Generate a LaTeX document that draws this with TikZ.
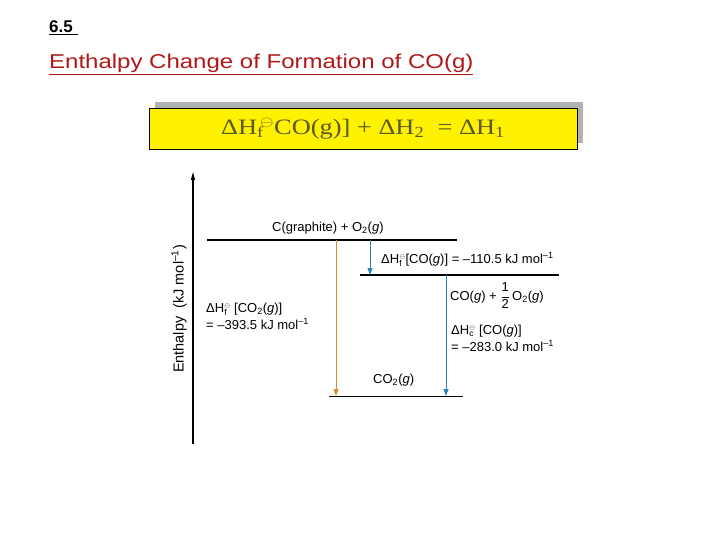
\documentclass[tikz,border=0pt]{standalone}
\usepackage{fontspec}
\setmainfont{Liberation Sans}
\newfontfamily\eqfont{Liberation Serif}
\usetikzlibrary{arrows.meta,positioning,shadows}
\definecolor{titlered}{RGB}{176,24,24}
\definecolor{eqtext}{RGB}{92,88,40}
\definecolor{flowblue}{RGB}{45,130,190}
\definecolor{floworange}{RGB}{214,140,50}
\tikzset{
  level/.style={line width=2pt},
  midlevel/.style={line width=1.5pt},
  lowlevel/.style={line width=1pt},
  lbl/.style={
    anchor=base west,
    inner sep=0pt,
    align=left,
    font=\fontsize{13}{17}\selectfont
  },
  downflow/.style={-{Triangle[length=7pt,width=5pt]}, line width=0.8pt},
  axis/.style={-{Triangle[length=8pt,width=4pt]}, line width=1.2pt}
}
\newcommand{\subtxt}[1]{\mbox{\fontsize{8.5}{9}\selectfont #1}}
\newcommand{\dHf}{\mbox{ΔH}$^{\scriptscriptstyle\ominus}_{\subtxt{f}}$}
\newcommand{\dHc}{\mbox{ΔH}$^{\scriptscriptstyle\ominus}_{\subtxt{c}}$}

\begin{document}
\begin{tikzpicture}[x=1pt,y=-1pt]
  \useasboundingbox (0,0) rectangle (720,540);

  % headings
  \node[anchor=base west, inner sep=0pt, font=\bfseries\fontsize{17}{19}\selectfont]
    (num) at (49,33) {\underline{6.5\ }};
  \node[anchor=base west, inner sep=0pt, text=titlered, font=\fontsize{20}{24}\selectfont]
    (title) at (49,69) {\scalebox{1.2}[1]{\underline{Enthalpy Change of Formation of CO(g)}}};

  % equation box
  \node[draw, fill=yellow, line width=0.8pt, minimum width=428pt, minimum height=41pt,
    drop shadow={shadow xshift=6pt, shadow yshift=6pt, fill=gray!60, opacity=1},
    text=eqtext, font=\eqfont\fontsize{22}{26}\selectfont]
    (eqn) at (363,128.5)
    {\scalebox{1.2}[1]{ΔH\rlap{\textsubscript{f}}\textsuperscript{\,$\ominus$}CO(g)] + ΔH\textsubscript{2}\ \ = ΔH\textsubscript{1}}};

  % enthalpy axis
  \coordinate (ax-bot) at (193,444);
  \coordinate (ax-top) at (193,172);
  \draw[axis] (ax-bot) -- (ax-top);
  \node[rotate=90, inner sep=0pt, font=\fontsize{14.5}{16}\selectfont] (ylab) at (179,309)
    {Enthalpy\ \ (kJ mol\textsuperscript{--1})};

  % levels
  \coordinate (top-l) at (207,240);
  \coordinate (top-r) at (457,240);
  \coordinate (mid-l) at (360,275);
  \coordinate (mid-r) at (559,275);
  \coordinate (bot-l) at (329,396);
  \coordinate (bot-r) at (463,396);
  \draw[level] (top-l) -- (top-r);
  \draw[midlevel] (mid-l) -- (mid-r);
  \draw[lowlevel] (bot-l) -- (bot-r);

  \node[lbl] (reac) at (272,231) {C(graphite) + O\textsubscript{2}(\textit{g})};
  \node[lbl] (co) at (450,300) {CO(\textit{g}) + $\displaystyle\frac{\mbox{1}}{\mbox{2}}$\,O\textsubscript{2}(\textit{g})};
  \node[lbl] (prod) at (373,383) {CO\textsubscript{2}(\textit{g})};

  % steps
  \coordinate (s1-a) at (370,240);
  \coordinate (s1-b) at (370,275);
  \coordinate (s2-a) at (446,275);
  \coordinate (s2-b) at (446,396);
  \coordinate (s3-a) at (336,240);
  \coordinate (s3-b) at (336,396);
  \draw[downflow, flowblue] (s1-a) -- (s1-b);
  \draw[downflow, flowblue] (s2-a) -- (s2-b);
  \draw[downflow, floworange] (s3-a) -- (s3-b);

  \node[lbl] (h1) at (381,263) {\dHf[CO(\textit{g})] = --110.5 kJ mol\textsuperscript{--1}};
  \node[lbl] (h3) at (206,329) {\dHf\ [CO\textsubscript{2}(\textit{g})]\\= --393.5 kJ mol\textsuperscript{--1}};
  \node[lbl] (h2) at (451,351) {\dHc\ [CO(\textit{g})]\\= --283.0 kJ mol\textsuperscript{--1}};
\end{tikzpicture}
\end{document}
